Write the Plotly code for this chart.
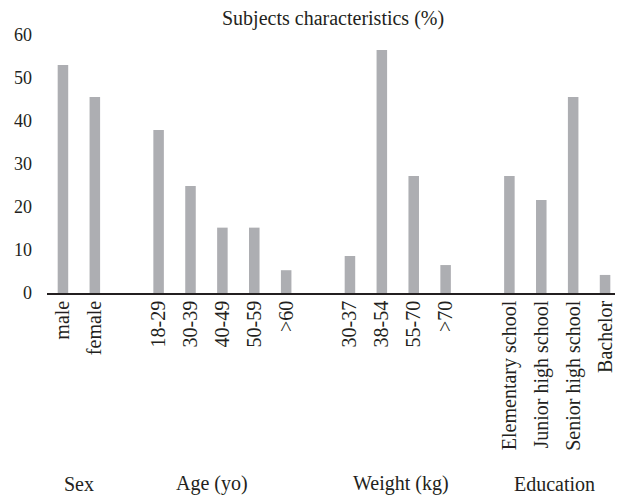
import plotly.graph_objects as go

# Data
sex_labels = ["male", "female"]
sex_values = [53.0, 45.6]
age_labels = ["18-29", "30-39", "40-49", "50-59", ">60"]
age_values = [37.9, 24.9, 15.2, 15.2, 5.3]
weight_labels = ["30-37", "38-54", "55-70", ">70"]
weight_values = [8.6, 56.5, 27.2, 6.5]
edu_labels = ["Elementary school", "Junior high school", "Senior high school", "Bachelor"]
edu_values = [27.2, 21.6, 45.6, 4.2]
group_names = ["Sex", "Age (yo)", "Weight (kg)", "Education"]
y_ticks = [0, 10, 20, 30, 40, 50, 60]
title_text = "Subjects characteristics (%)"

groups = [(sex_labels, sex_values), (age_labels, age_values),
          (weight_labels, weight_values), (edu_labels, edu_values)]

xs, ys, labels, centers = [], [], [], []
pos = 0
for lab, val in groups:
    start = pos
    for l, v in zip(lab, val):
        xs.append(pos); ys.append(v); labels.append(l)
        pos += 1
    centers.append((start + pos - 1) / 2)
    pos += 1  # gap slot

label_shift = [0, -0.33, 0.1, -0.1]

TXT = "#231f20"
FONT = "Liberation Serif"
OFF = 8  # default page body margin in the written html

W, H = 623 - OFF, 498 - OFF

fig = go.Figure(go.Bar(x=xs, y=ys, width=0.33, marker=dict(color="#adaeb2", line=dict(width=0)),
                       hoverinfo="skip"))

for name, c, s in zip(group_names, centers, label_shift):
    fig.add_annotation(x=c + s, xref="x", y=-0.74, yref="paper", yanchor="middle",
                       text=name, showarrow=False, font=dict(family=FONT, size=20, color=TXT))

# chart title as a paper annotation above the plot area
fig.add_annotation(x=(333 - 47) / (621 - 47), xref="paper", y=1 + (35 - 18.5) / 258, yref="paper",
                   xanchor="center", yanchor="middle", text=title_text, showarrow=False,
                   font=dict(family=FONT, size=20, color=TXT))

fig.update_layout(
    width=W, height=H,
    margin=dict(l=47 - OFF, r=2, t=35 - OFF, b=H - (293 - OFF)),
    paper_bgcolor="white", plot_bgcolor="white",
    showlegend=False,
    font=dict(family=FONT, size=18, color=TXT),
    xaxis=dict(range=[-0.5, pos - 1.5], tickmode="array", tickvals=xs, ticktext=labels,
               tickangle=-90, showgrid=False, zeroline=False, showline=True, linecolor=TXT,
               linewidth=1.5, ticks="", ticklabelstandoff=-2, fixedrange=True, automargin=False,
               tickfont=dict(family=FONT, size=20, color=TXT)),
    yaxis=dict(range=[0, 60], tickmode="array", tickvals=y_ticks, showgrid=False, zeroline=False,
               showline=False, ticks="", ticklabelstandoff=14, fixedrange=True, automargin=False,
               tickfont=dict(family=FONT, size=18, color=TXT)),
)

fig.write_html("out.html")
